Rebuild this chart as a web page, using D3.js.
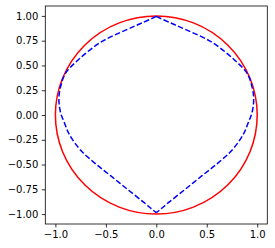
<!DOCTYPE html>
<html>
<head>
<meta charset="utf-8">
<script src="https://cdn.jsdelivr.net/npm/d3@7"></script>
<style>
  body { margin: 0; background: #fff; }
  text { font-family: "DejaVu Sans", sans-serif; }
</style>
</head>
<body>
<div id="chart"></div>
<script>
// values
const xTicks = [-1.0, -0.5, 0.0, 0.5, 1.0];
const yTicks = [-1.0, -0.75, -0.5, -0.25, 0.0, 0.25, 0.5, 0.75, 1.0];

const circleCenter = [0, 0];
const circleRadius = 1;

// dashed blue curve, right half (top cusp -> bottom cusp)
const rightX = [0, 0.14, 0.285, 0.55, 0.77, 0.90, 0.945, 0.965, 0.95, 0.91, 0.86, 0.75, 0.61, 0.45, 0.28, 0.12, 0.05, 0];
const rightY = [0.995, 0.93, 0.865, 0.735, 0.56, 0.42, 0.30, 0.17, 0.03, -0.08, -0.20, -0.355, -0.485, -0.615, -0.755, -0.885, -0.945, -0.985];
// left half
const leftX = [0, -0.14, -0.285, -0.55, -0.77, -0.90, -0.945, -0.965, -0.95, -0.91, -0.86, -0.75, -0.61, -0.45, -0.28, -0.12, -0.05, 0];
const leftY = [0.995, 0.93, 0.865, 0.735, 0.56, 0.42, 0.30, 0.17, 0.03, -0.08, -0.20, -0.355, -0.485, -0.615, -0.755, -0.885, -0.945, -0.985];

(function () {
  const width = 275, height = 248;
  const mLeft = 45.3, mRight = 267.3, mTop = 6, mBottom = 224;

  const svg = d3.select("#chart").append("svg")
    .attr("width", width)
    .attr("height", height);

  const x = d3.scaleLinear().domain([-1.1, 1.1]).range([mLeft, mRight]);
  const y = d3.scaleLinear().domain([-1.1, 1.1]).range([mBottom, mTop]);

  const minus = s => s.replace("-", "\u2212");

  // circle
  svg.append("ellipse")
    .attr("cx", x(circleCenter[0]))
    .attr("cy", y(circleCenter[1]))
    .attr("rx", x(circleRadius) - x(0))
    .attr("ry", y(0) - y(circleRadius))
    .attr("fill", "none")
    .attr("stroke", "#ff0000")
    .attr("stroke-width", 1.5);

  const line = d3.line()
    .x(d => x(d[0]))
    .y(d => y(d[1]))
    .curve(d3.curveCatmullRom);

  [[rightX, rightY], [leftX, leftY]].forEach(([xs, ys]) => {
    svg.append("path")
      .datum(xs.map((v, i) => [v, ys[i]]))
      .attr("d", line)
      .attr("fill", "none")
      .attr("stroke", "#0000ff")
      .attr("stroke-width", 1.5)
      .attr("stroke-dasharray", "5.55,2.4");
  });

  // axes
  const xAxis = svg.append("g")
    .attr("transform", `translate(0,${mBottom})`)
    .call(d3.axisBottom(x).tickValues(xTicks).tickSize(3.5).tickPadding(3.5)
      .tickFormat(d => minus(d3.format(".1f")(d))));
  const yAxis = svg.append("g")
    .attr("transform", `translate(${mLeft},0)`)
    .call(d3.axisLeft(y).tickValues(yTicks).tickSize(3.5).tickPadding(3.5)
      .tickFormat(d => minus(d3.format(".2f")(d))));

  [xAxis, yAxis].forEach(g => {
    g.select(".domain").remove();
    g.selectAll(".tick line").attr("stroke", "#000").attr("stroke-width", 0.8);
    g.selectAll(".tick text").attr("fill", "#000")
      .style("font-size", "10px")
      .style("font-family", "DejaVu Sans, sans-serif");
  });

  svg.append("rect")
    .attr("x", mLeft)
    .attr("y", mTop)
    .attr("width", mRight - mLeft)
    .attr("height", mBottom - mTop)
    .attr("fill", "none")
    .attr("stroke", "#000")
    .attr("stroke-width", 0.8);
})();
</script>
</body>
</html>
